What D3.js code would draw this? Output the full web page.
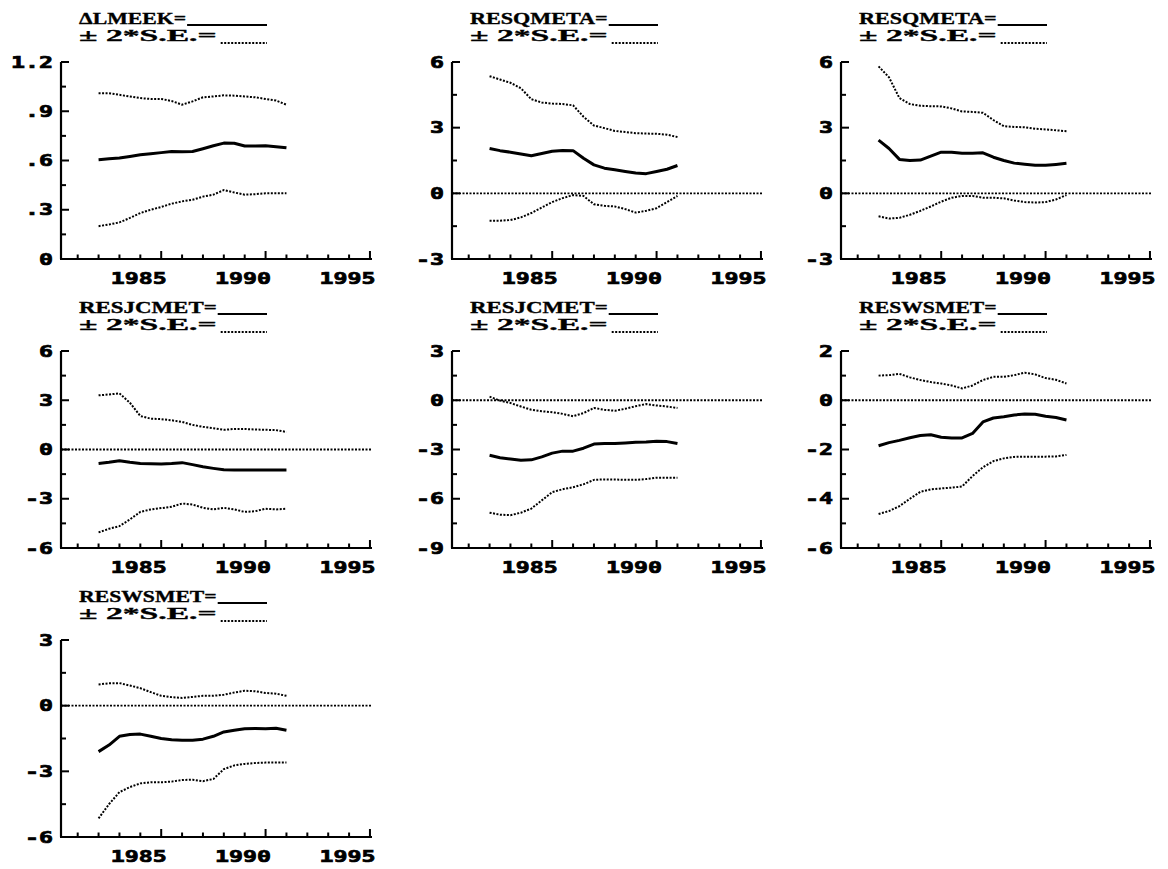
<!DOCTYPE html>
<html><head><meta charset="utf-8">
<script src="https://cdn.jsdelivr.net/npm/d3@7"></script>
<style>body{margin:0;background:#fff}</style>
</head><body>
<svg id="c" width="1168" height="869"></svg>
<script>
// ---- data ----
const years = [1982,1982.5,1983,1983.5,1984,1984.5,1985,1985.5,1986,1986.5,1987,1987.5,1988,1988.5,1989,1989.5,1990,1990.5,1991];
const yearTicks = [1985,1990,1995];
const yearTickLabels = ["1985","1990","1995"];
const minorYearTicks = [1981,1982,1983,1984,1986,1987,1988,1989,1991,1992,1993,1994];

const titles = ["\u0394LMEEK","RESQMETA","RESQMETA","RESJCMET","RESJCMET","RESWSMET","RESWSMET"];
const seLabel = "\u00B1 2*S.E.=";

const p1Est = [0.605,0.61,0.615,0.625,0.635,0.641,0.648,0.655,0.653,0.655,0.672,0.69,0.706,0.705,0.688,0.688,0.69,0.684,0.677];
const p1Up  = [1.01,1.01,1.0,0.99,0.98,0.975,0.975,0.962,0.94,0.96,0.985,0.99,0.997,0.995,0.99,0.985,0.975,0.965,0.94];
const p1Lo  = [0.2,0.21,0.223,0.25,0.28,0.3,0.317,0.337,0.351,0.361,0.38,0.392,0.42,0.405,0.392,0.395,0.4,0.4,0.4];

const p2Est = [2.05,1.95,1.88,1.8,1.72,1.82,1.92,1.96,1.95,1.6,1.3,1.15,1.08,1.0,0.93,0.9,1.0,1.1,1.27];
const p2Up  = [5.35,5.2,5.05,4.8,4.3,4.15,4.1,4.08,4.02,3.5,3.1,2.98,2.85,2.8,2.75,2.73,2.72,2.68,2.57];
const p2Lo  = [-1.25,-1.25,-1.22,-1.1,-0.9,-0.65,-0.4,-0.22,-0.08,-0.12,-0.5,-0.57,-0.6,-0.72,-0.88,-0.8,-0.68,-0.4,-0.12];

const p3Est = [2.43,2.05,1.55,1.5,1.52,1.7,1.88,1.88,1.83,1.83,1.85,1.65,1.5,1.38,1.33,1.28,1.28,1.32,1.37];
const p3Up  = [5.8,5.3,4.35,4.08,4.0,3.98,3.97,3.88,3.74,3.72,3.68,3.35,3.07,3.03,3.02,2.95,2.92,2.88,2.84];
const p3Lo  = [-1.05,-1.15,-1.12,-0.98,-0.8,-0.6,-0.38,-0.2,-0.12,-0.12,-0.2,-0.2,-0.23,-0.33,-0.4,-0.42,-0.4,-0.28,-0.08];

const p4Est = [-0.85,-0.78,-0.68,-0.78,-0.85,-0.87,-0.88,-0.85,-0.8,-0.92,-1.05,-1.15,-1.24,-1.25,-1.25,-1.25,-1.25,-1.25,-1.25];
const p4Up  = [3.3,3.35,3.42,2.85,2.04,1.88,1.85,1.78,1.68,1.5,1.38,1.3,1.2,1.25,1.25,1.22,1.2,1.18,1.07];
const p4Lo  = [-5.05,-4.83,-4.67,-4.26,-3.8,-3.65,-3.57,-3.49,-3.29,-3.35,-3.55,-3.65,-3.55,-3.65,-3.8,-3.76,-3.61,-3.65,-3.61];

const p5Est = [-3.35,-3.5,-3.58,-3.65,-3.63,-3.45,-3.22,-3.1,-3.1,-2.92,-2.67,-2.64,-2.64,-2.6,-2.56,-2.54,-2.5,-2.52,-2.64];
const p5Up  = [0.22,-0.02,-0.17,-0.38,-0.58,-0.67,-0.73,-0.83,-0.97,-0.78,-0.47,-0.58,-0.64,-0.52,-0.36,-0.23,-0.32,-0.38,-0.47];
const p5Lo  = [-6.85,-6.97,-7.0,-6.85,-6.6,-6.1,-5.6,-5.42,-5.3,-5.12,-4.85,-4.82,-4.83,-4.85,-4.85,-4.8,-4.72,-4.72,-4.72];

const p6Est = [-1.85,-1.72,-1.63,-1.52,-1.43,-1.4,-1.5,-1.53,-1.53,-1.35,-0.88,-0.72,-0.67,-0.6,-0.56,-0.57,-0.65,-0.7,-0.8];
const p6Up  = [1.0,1.02,1.07,0.93,0.82,0.74,0.68,0.6,0.48,0.6,0.82,0.95,0.95,1.02,1.12,1.05,0.9,0.83,0.68];
const p6Lo  = [-4.62,-4.5,-4.3,-4.0,-3.72,-3.62,-3.58,-3.55,-3.5,-3.08,-2.72,-2.47,-2.36,-2.3,-2.29,-2.29,-2.29,-2.28,-2.22];

const p7Est = [-2.1,-1.8,-1.4,-1.32,-1.3,-1.4,-1.5,-1.56,-1.58,-1.58,-1.53,-1.4,-1.2,-1.12,-1.05,-1.04,-1.05,-1.03,-1.12];
const p7Up  = [0.97,1.02,1.03,0.92,0.8,0.62,0.45,0.39,0.35,0.4,0.45,0.45,0.5,0.6,0.68,0.66,0.58,0.55,0.45];
const p7Lo  = [-5.15,-4.5,-3.95,-3.72,-3.55,-3.5,-3.5,-3.47,-3.4,-3.38,-3.45,-3.35,-2.9,-2.73,-2.66,-2.62,-2.6,-2.6,-2.6];

const yTicks1 = [0,0.3,0.6,0.9,1.2];       const yLabels1 = ["0",".3",".6",".9","1.2"];
const yTicks2 = [-3,0,3,6];                const yLabels2 = ["-3","0","3","6"];
const yTicks4 = [-6,-3,0,3,6];             const yLabels4 = ["-6","-3","0","3","6"];
const yTicks5 = [-9,-6,-3,0,3];            const yLabels5 = ["-9","-6","-3","0","3"];
const yTicks6 = [-6,-4,-2,0,2];            const yLabels6 = ["-6","-4","-2","0","2"];
const yTicks7 = [-6,-3,0,3];               const yLabels7 = ["-6","-3","0","3"];

const panels = [
  {title:titles[0], est:p1Est, up:p1Up, lo:p1Lo, ticks:yTicks1, labels:yLabels1, zero:false},
  {title:titles[1], est:p2Est, up:p2Up, lo:p2Lo, ticks:yTicks2, labels:yLabels2, zero:true},
  {title:titles[2], est:p3Est, up:p3Up, lo:p3Lo, ticks:yTicks2, labels:yLabels2, zero:true},
  {title:titles[3], est:p4Est, up:p4Up, lo:p4Lo, ticks:yTicks4, labels:yLabels4, zero:true},
  {title:titles[4], est:p5Est, up:p5Up, lo:p5Lo, ticks:yTicks5, labels:yLabels5, zero:true},
  {title:titles[5], est:p6Est, up:p6Up, lo:p6Lo, ticks:yTicks6, labels:yLabels6, zero:true},
  {title:titles[6], est:p7Est, up:p7Up, lo:p7Lo, ticks:yTicks7, labels:yLabels7, zero:true}
];

// ---- layout ----
const colX = [61, 452, 841];
const rowY = [0, 289, 578];
const W = 310, TOP = 62, BOT = 259;
const numFont = "'DejaVu Sans Mono', monospace";
const titleFont = "'Liberation Serif', serif";
const CH = 14;      // numeric char cell
const TCH = 15.3;   // title char cell
const DOT = "2 1.5";

const svg = d3.select("#c");

function numText(g, xx, yy, s, anchor) {
  return g.append("text").attr("x", xx).attr("y", yy).text(s)
    .attr("text-anchor", anchor).attr("font-family", numFont).attr("font-weight", "bold")
    .attr("font-size", 15.5).attr("stroke", "#000").attr("stroke-width", 0.7)
    .attr("textLength", s.length * CH).attr("lengthAdjust", "spacingAndGlyphs");
}

panels.forEach((p, i) => {
  const col = i % 3, row = Math.floor(i / 3);
  const x0 = colX[col], y0 = rowY[row] + TOP, y1 = rowY[row] + BOT;
  const x = d3.scaleLinear().domain([1980.2, 1995.05]).range([x0, x0 + W]);
  const y = d3.scaleLinear().domain([p.ticks[0], p.ticks[p.ticks.length-1]]).range([y1, y0]);
  const g = svg.append("g");

  // title
  const tx = x0 + 18, tb1 = rowY[row] + 24, tb2 = rowY[row] + 41, lineEnd = x0 + 206;
  const t1 = p.title + "=";
  g.append("text").attr("x", tx).attr("y", tb1).text(t1)
    .attr("font-family", titleFont).attr("font-weight", "bold").attr("font-size", 16.5)
    .attr("stroke", "#000").attr("stroke-width", 0.35)
    .attr("textLength", t1.length * TCH).attr("lengthAdjust", "spacingAndGlyphs");
  g.append("line").attr("x1", tx + t1.length * TCH + 1).attr("x2", lineEnd)
    .attr("y1", tb1 + 1).attr("y2", tb1 + 1).attr("stroke", "#000").attr("stroke-width", 2);
  g.append("text").attr("x", tx).attr("y", tb2).text(seLabel)
    .attr("font-family", titleFont).attr("font-weight", "bold").attr("font-size", 16.5)
    .attr("stroke", "#000").attr("stroke-width", 0.35)
    .attr("textLength", seLabel.length * TCH).attr("lengthAdjust", "spacingAndGlyphs");
  g.append("line").attr("x1", tx + seLabel.length * TCH + 4).attr("x2", lineEnd)
    .attr("y1", tb2 + 2).attr("y2", tb2 + 2).attr("stroke", "#000").attr("stroke-width", 1.8)
    .attr("stroke-dasharray", DOT);

  // axes
  g.append("line").attr("x1", x0).attr("x2", x0).attr("y1", y0).attr("y2", y1)
    .attr("stroke", "#000").attr("stroke-width", 2.2);
  g.append("line").attr("x1", x0 - 1).attr("x2", x0 + W + 1).attr("y1", y1).attr("y2", y1)
    .attr("stroke", "#000").attr("stroke-width", 2.2);

  // y ticks
  p.ticks.forEach((t, k) => {
    g.append("line").attr("x1", x0).attr("x2", x0 + 8).attr("y1", y(t)).attr("y2", y(t))
      .attr("stroke", "#000").attr("stroke-width", 2);
    numText(g, x0 - 8, y(t) + 5.5, p.labels[k], "end");
    if (k < p.ticks.length - 1) {
      const m = (t + p.ticks[k+1]) / 2;
      g.append("line").attr("x1", x0).attr("x2", x0 + 5).attr("y1", y(m)).attr("y2", y(m))
        .attr("stroke", "#000").attr("stroke-width", 2);
    }
  });

  // x ticks
  minorYearTicks.forEach(t => {
    g.append("line").attr("x1", x(t)).attr("x2", x(t)).attr("y1", y1).attr("y2", y1 - 4.5)
      .attr("stroke", "#000").attr("stroke-width", 2);
  });
  yearTicks.forEach((t, k) => {
    g.append("line").attr("x1", x(t)).attr("x2", x(t)).attr("y1", y1).attr("y2", y1 - 8)
      .attr("stroke", "#000").attr("stroke-width", 2);
    numText(g, x(t) + 5.5, y1 + 25, yearTickLabels[k], "end");
  });

  // zero line
  if (p.zero) {
    g.append("line").attr("x1", x0).attr("x2", x0 + W).attr("y1", y(0)).attr("y2", y(0))
      .attr("stroke", "#000").attr("stroke-width", 1.8).attr("stroke-dasharray", DOT);
  }

  const line = d3.line().x((d, j) => x(years[j])).y(d => y(d));
  g.append("path").attr("d", line(p.up)).attr("fill", "none").attr("stroke", "#000")
    .attr("stroke-width", 2).attr("stroke-dasharray", DOT);
  g.append("path").attr("d", line(p.lo)).attr("fill", "none").attr("stroke", "#000")
    .attr("stroke-width", 2).attr("stroke-dasharray", DOT);
  g.append("path").attr("d", line(p.est)).attr("fill", "none").attr("stroke", "#000")
    .attr("stroke-width", 3).attr("stroke-linejoin", "round");
});
</script>
</body></html>
